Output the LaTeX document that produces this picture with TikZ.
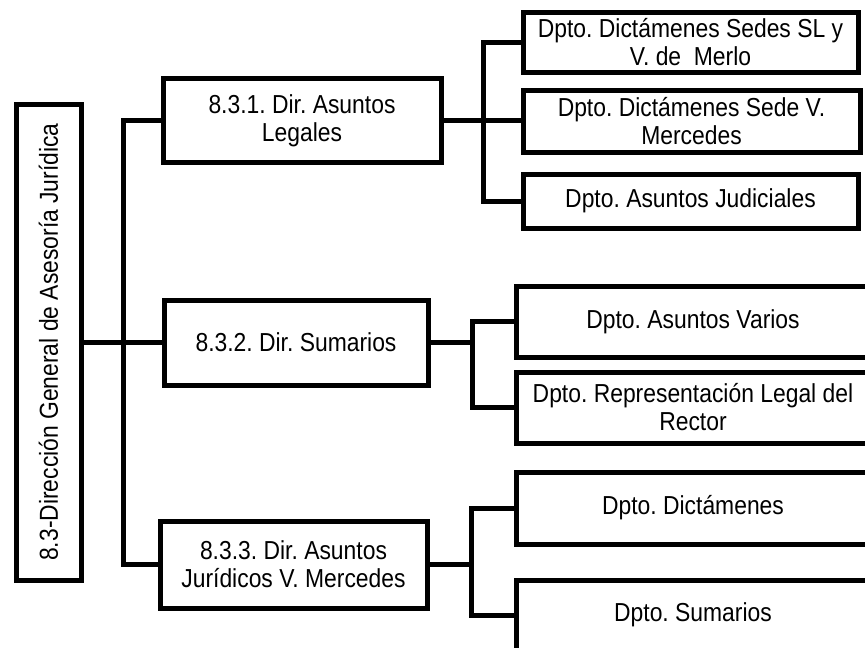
\documentclass[tikz,border=0pt]{standalone}
\usepackage{fontspec}
\setmainfont{Liberation Sans}[FakeStretch=0.88]
\frenchspacing
\begin{document}
\begin{tikzpicture}[x=1pt,y=-1pt,
  box/.style={draw=black,line width=5pt,rectangle,inner sep=0pt,align=center,
    font=\fontsize{26}{28}\selectfont},
  conn/.style={draw=black,line width=5pt,line join=miter}]
\useasboundingbox (0,0) rectangle (865,648);
\clip (0,0) rectangle (865,648);
\fill[white] (0,0) rectangle (865,648);
% root
\node[box,rotate=90,minimum width=476pt,minimum height=65pt] (root) at (48.5,342) {8.3-Dirección General de Asesoría Jurídica};
% level 2
\node[box,minimum width=278pt,minimum height=84pt] (b1) at (302,120.5) {8.3.1. Dir. Asuntos\\Legales};
\node[box,minimum width=264pt,minimum height=85pt] (b2) at (296,342.5) {8.3.2. Dir. Sumarios};
\node[box,minimum width=267pt,minimum height=87pt] (b3) at (293.5,564.5) {8.3.3. Dir. Asuntos\\Jurídicos V. Mercedes};
% level 3
\node[box,minimum width=335pt,minimum height=60pt] (b1a) at (690.5,42) {Dpto. Dictámenes Sedes SL y\\V. de\ \ Merlo};
\node[box,minimum width=337pt,minimum height=62pt] (b1b) at (691.5,121) {Dpto. Dictámenes Sede V.\\Mercedes};
\node[box,minimum width=335pt,minimum height=54pt] (b1c) at (690.5,201) {Dpto. Asuntos Judiciales};
\node[box,minimum width=354pt,minimum height=71pt] (bA) at (693,321.5) {Dpto. Asuntos Varios};
\node[box,minimum width=354pt,minimum height=71pt] (bB) at (693,407.5) {Dpto. Representación Legal del\\Rector};
\node[box,minimum width=354pt,minimum height=72pt] (b3a) at (693,508) {Dpto. Dictámenes};
\node[box,minimum width=354pt,minimum height=70pt] (b3b) at (693,615) {Dpto. Sumarios};
% trunk x positions
\coordinate (t0) at (123,0);
\coordinate (s1) at (483,0);
\coordinate (s2) at (472,0);
\coordinate (s3) at (471,0);
% connectors
\draw[conn] (root.south) -- (root.south -| t0);
\draw[conn] (b1.west) -- (b1.west -| t0) -- (b3.west -| t0) -- (b3.west);
\draw[conn] (b2.west -| t0) -- (b2.west);
\draw[conn] (b1.east) -- (b1.east -| b1b.west);
\draw[conn] (b1a.west) -- (b1a.west -| s1) -- (b1c.west -| s1) -- (b1c.west);
\draw[conn] (b2.east) -- (b2.east -| s2);
\draw[conn] (bA.west) -- (bA.west -| s2) -- (bB.west -| s2) -- (bB.west);
\draw[conn] (b3.east) -- (b3.east -| s3);
\draw[conn] (b3a.west) -- (b3a.west -| s3) -- (b3b.west -| s3) -- (b3b.west);
\end{tikzpicture}
\end{document}
